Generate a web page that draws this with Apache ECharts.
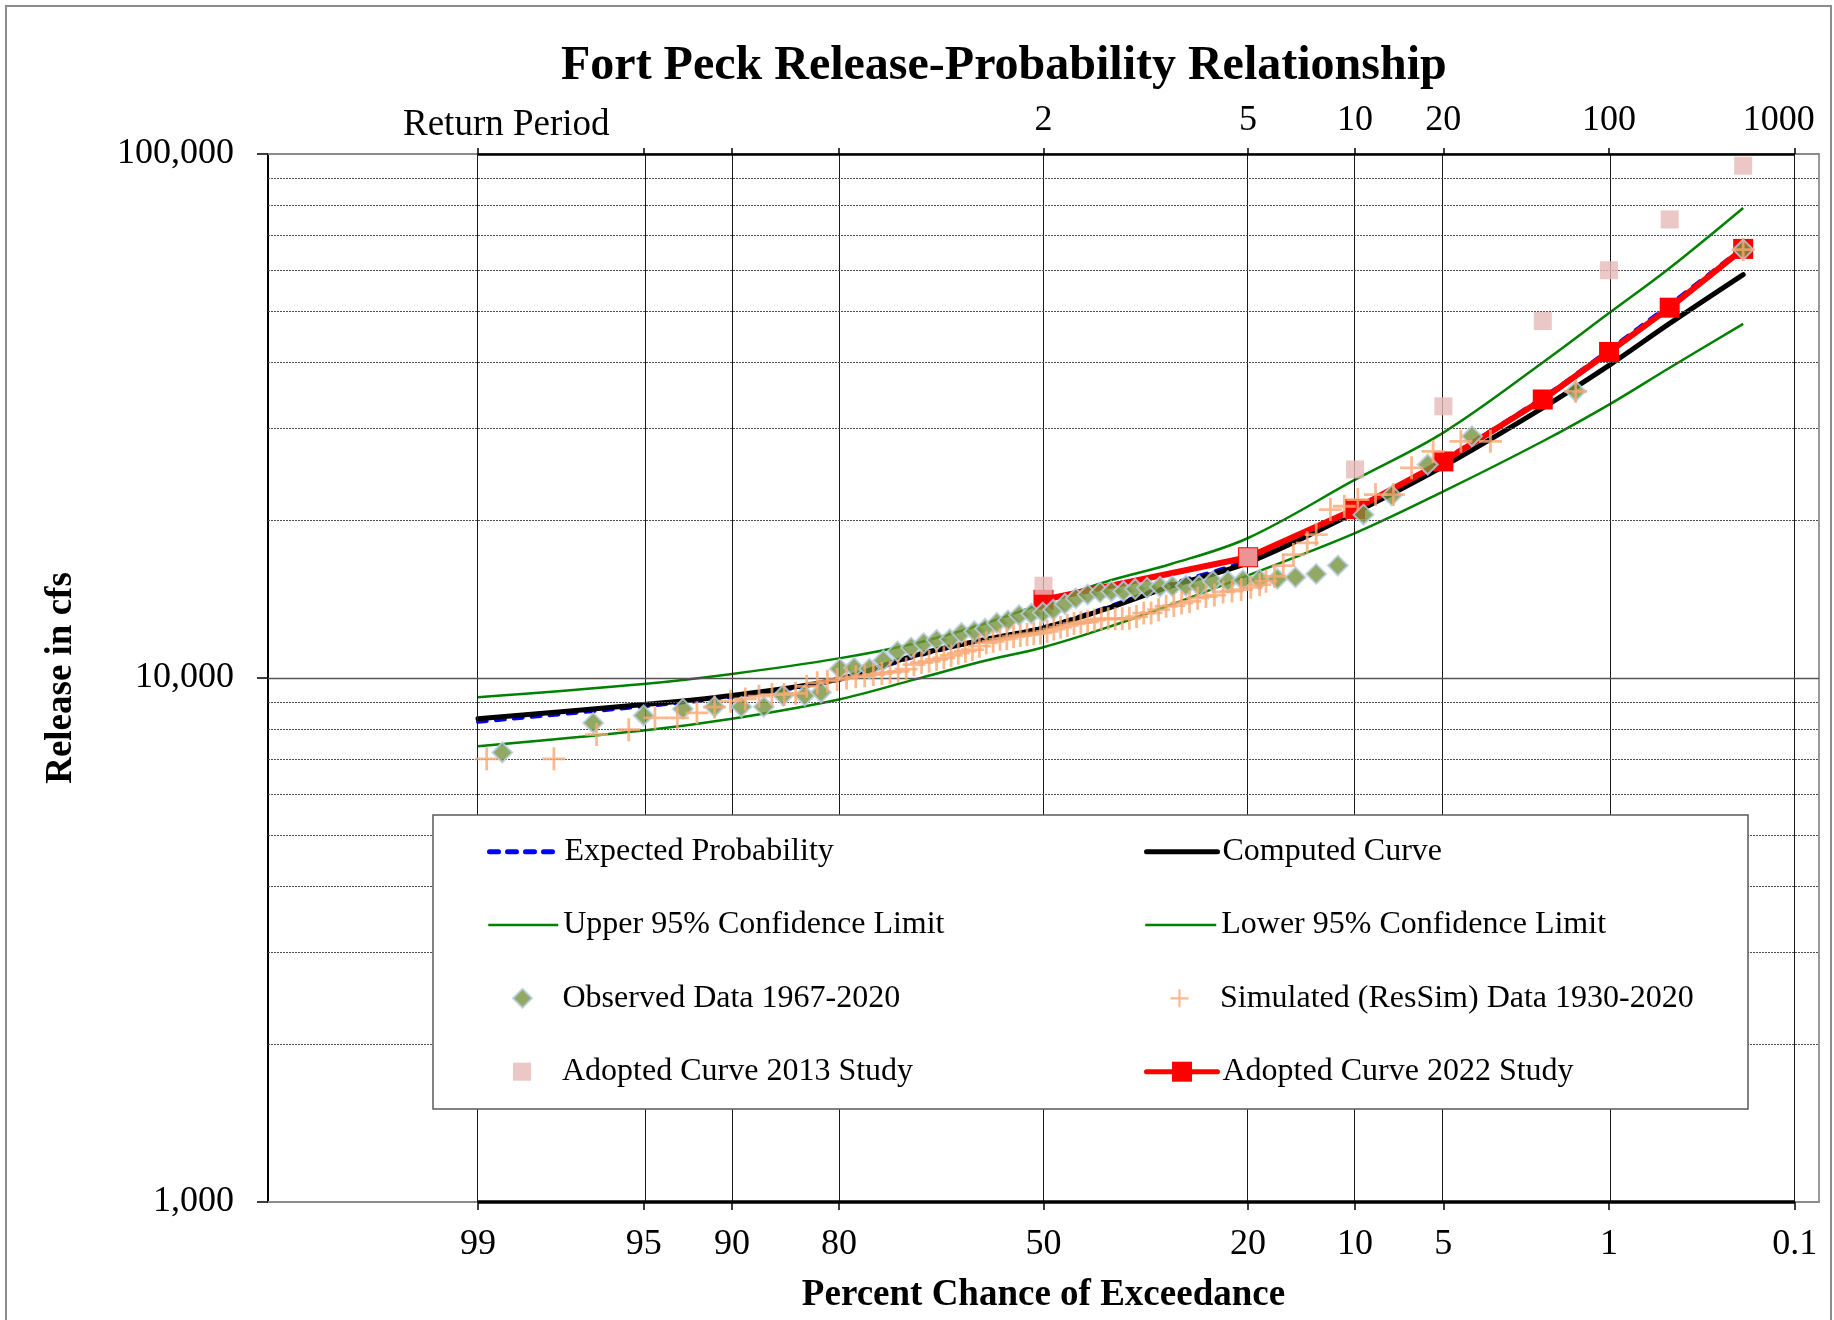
<!DOCTYPE html>
<html>
<head>
<meta charset="utf-8">
<script src="https://cdn.jsdelivr.net/npm/echarts@6/dist/echarts.min.js"></script>
<style>
  html, body { margin: 0; padding: 0; background: #fff; }
  #chart { width: 1834px; height: 1320px; }
</style>
</head>
<body>
<div id="chart"></div>
<script>
// Percent chance of exceedance ticks (bottom axis) and return periods (top axis)
const exceedanceTicks = [99, 95, 90, 80, 50, 20, 10, 5, 1, 0.1];
const exceedanceLabels = ['99', '95', '90', '80', '50', '20', '10', '5', '1', '0.1'];
const returnPeriodPct = [50, 20, 10, 5, 1, 0.1];
const returnPeriodLabels = ['2', '5', '10', '20', '100', '1000'];

// Frequency curves (percent exceedance -> release, cfs)
const curvePct = [99, 95, 90, 80, 70, 60, 50, 40, 30, 20, 10, 5, 2, 1, 0.5, 0.2];
const expectedFlow = [8250, 8830, 9210, 9920, 11000, 11800, 12500, 13600, 15100, 16800, 21100, 26100, 34300, 42300, 51600, 66300];
const computedFlow = [8360, 8900, 9260, 9950, 11060, 11810, 12460, 13530, 14980, 16600, 20700, 25350, 32780, 39500, 47500, 58870];
const upperFlow = [9190, 9740, 10180, 10900, 11650, 12650, 13900, 15250, 16500, 18500, 23900, 29400, 40000, 49700, 60600, 78900];
const lowerFlow = [7410, 7940, 8360, 9100, 9950, 10750, 11450, 12450, 13800, 15700, 18900, 22700, 28300, 33250, 39100, 47400];

// Adopted curves
const adoptedPct = [50, 20, 10, 5, 2, 1, 0.5, 0.2];
const adopted2013 = [15000, 17000, 25000, 33000, 48000, 60000, 75000, 95000];
const adopted2022 = [14100, 17000, 21000, 25900, 34000, 41900, 50900, 65900];

// Observed annual peak releases 1967-2020
const obsPct = [98.7, 96.8, 95.0, 93.1, 91.2, 89.3, 87.5, 85.8, 83.7, 82.0,
  79.9, 78.2, 76.3, 74.5, 72.6, 70.7, 68.9, 67.0, 65.0, 63.2,
  61.2, 59.5, 57.6, 55.8, 54.0, 52.0, 50.1, 48.4, 46.5, 44.7,
  42.8, 40.8, 39.0, 37.1, 35.3, 33.5, 31.6, 29.8, 27.9, 26.1,
  24.3, 22.4, 20.6, 18.7, 16.8, 15.0, 13.1, 11.3, 9.4, 7.6,
  5.7, 3.9, 1.43, 0.2];
const obsFlow = [7210, 8210, 8480, 8730, 8810, 8810, 8810, 9260, 9260, 9390,
  10410, 10460, 10420, 10800, 11240, 11430, 11650, 11820, 11860, 12190,
  12280, 12420, 12740, 12880, 13180, 13260, 13330, 13500, 13840, 14190,
  14430, 14570, 14640, 14640, 14790, 14860, 14930, 14960, 15000, 15000,
  15300, 15300, 15360, 15410, 15460, 15570, 15800, 16390, 20500, 22290,
  25550, 28930, 35250, 65700];

// Simulated (ResSim) annual peak releases 1930-2020
const simPct = [98.9, 97.8, 96.7, 95.6, 94.5, 93.4, 92.3, 91.2, 90.1, 89.0,
  87.9, 86.8, 85.7, 84.6, 83.5, 82.4, 81.3, 80.2, 79.1, 78.0,
  76.9, 75.8, 74.7, 73.6, 72.5, 71.4, 70.3, 69.2, 68.1, 67.0,
  65.9, 64.8, 63.7, 62.6, 61.5, 60.4, 59.3, 58.2, 57.1, 56.0,
  54.9, 53.8, 52.7, 51.6, 50.5, 49.4, 48.3, 47.2, 46.1, 45.0,
  43.9, 42.8, 41.7, 40.6, 39.5, 38.4, 37.3, 36.2, 35.1, 34.0,
  32.9, 31.8, 30.7, 29.6, 28.5, 27.4, 26.3, 25.2, 24.1, 23.0,
  21.9, 20.8, 19.7, 18.7, 18.0, 17.1, 16.2, 15.2, 13.9, 13.1,
  11.9, 10.8, 9.8, 8.6, 7.5, 6.5, 5.45, 4.3, 3.3, 1.43, 0.2];
const simFlow = [7010, 7010, 7800, 7970, 8390, 8390, 8580, 8800, 9030, 9120,
  9230, 9300, 9300, 9350, 9640, 9790, 9860, 9930, 10000, 10050,
  10100, 10150, 10200, 10250, 10300, 10400, 10600, 10700, 10760, 10850,
  10930, 11040, 11150, 11250, 11330, 11500, 11670, 11750, 11850, 11900,
  12000, 12050, 12100, 12150, 12190, 12280, 12400, 12500, 12600, 12700,
  12750, 12800, 12900, 12970, 12970, 12970, 12970, 13000, 13100, 13300,
  13310, 13500, 13700, 13750, 13900, 14000, 14200, 14300, 14400, 14600,
  14650, 14750, 14900, 15070, 15300, 15630, 16390, 17200, 18110, 18780,
  20960, 21270, 21900, 22390, 22390, 25180, 27070, 28290, 28290, 35250, 65700];

// Horizontal grid values on the log release axis
const minorFlows = [2000, 3000, 4000, 5000, 6000, 7000, 8000, 9000,
  20000, 30000, 40000, 50000, 60000, 70000, 80000, 90000];

// Inverse standard normal CDF (Acklam's rational approximation)
function normInv(p) {
  const a = [-3.969683028665376e+01, 2.209460984245205e+02, -2.759285104469687e+02, 1.383577518672690e+02, -3.066479806614716e+01, 2.506628277459239e+00];
  const b = [-5.447609879822406e+01, 1.615858368580409e+02, -1.556989798598866e+02, 6.680131188771972e+01, -1.328068155288572e+01];
  const c = [-7.784894002430293e-03, -3.223964580411365e-01, -2.400758277161838e+00, -2.549732539343734e+00, 4.374664141464968e+00, 2.938163982698783e+00];
  const d = [7.784695709041462e-03, 3.224671290700398e-01, 2.445134137142996e+00, 3.754408661907416e+00];
  const pl = 0.02425, ph = 1 - pl;
  let q, r;
  if (p < pl) {
    q = Math.sqrt(-2 * Math.log(p));
    return (((((c[0] * q + c[1]) * q + c[2]) * q + c[3]) * q + c[4]) * q + c[5]) / ((((d[0] * q + d[1]) * q + d[2]) * q + d[3]) * q + 1);
  }
  if (p <= ph) {
    q = p - 0.5; r = q * q;
    return (((((a[0] * r + a[1]) * r + a[2]) * r + a[3]) * r + a[4]) * r + a[5]) * q / (((((b[0] * r + b[1]) * r + b[2]) * r + b[3]) * r + b[4]) * r + 1);
  }
  q = Math.sqrt(-2 * Math.log(1 - p));
  return -(((((c[0] * q + c[1]) * q + c[2]) * q + c[3]) * q + c[4]) * q + c[5]) / ((((d[0] * q + d[1]) * q + d[2]) * q + d[3]) * q + 1);
}
// Normal-probability position of a percent chance of exceedance
const zOf = pct => normInv(1 - pct / 100);
const pairs = (pcts, vals) => pcts.map((p, i) => [zOf(p), vals[i]]);

const tickZ = exceedanceTicks.map(zOf);
const rpZ = returnPeriodPct.map(zOf);
const labelFor = (value, zs, labels) => {
  for (let i = 0; i < zs.length; i++) if (Math.abs(zs[i] - value) < 1e-6) return labels[i];
  return '';
};

const SERIF = 'Liberation Serif';
const Z_MIN = -3.19, Z_MAX = 3.19;
const CROSS = 'path://M8.8,0H11.2V8.8H20V11.2H11.2V20H8.8V11.2H0V8.8H8.8Z';
const DIAMOND_ICON = 'path://M10,0L20,10L10,20L0,10Z';
const SQUARE_ICON = 'path://M0,0H20V20H0Z';

const gridLines = [];
tickZ.forEach(z => gridLines.push({ xAxis: z, lineStyle: { color: '#1a1a1a', width: 1, type: 'solid' } }));
minorFlows.forEach(v => gridLines.push({ yAxis: v, lineStyle: { color: '#4d4d4d', width: 1, type: [2, 1] } }));
gridLines.push({ yAxis: 10000, lineStyle: { color: '#555', width: 1.4, type: 'solid' } });
gridLines.push([{ coord: [zOf(99), 1000] }, { coord: [zOf(0.1), 1000], lineStyle: { color: '#000', width: 3.5, type: 'solid' } }]);
gridLines.push([{ coord: [zOf(99), 100000] }, { coord: [zOf(0.1), 100000], lineStyle: { color: '#000', width: 2.5, type: 'solid' } }]);

const legendText = { fontFamily: SERIF, fontSize: 32, color: '#000', lineHeight: 32 };
// One legend block per entry so every row sits exactly in its slot
function legendItem(entry, left, centerY, w, h, extra) {
  return Object.assign({
    data: [entry], left: left, top: centerY - 16, itemWidth: w, itemHeight: h,
    padding: 0, z: 30, selectedMode: false, symbolKeepAspect: true, textStyle: legendText
  }, extra || {});
}
const lineOnly = (width) => ({ itemStyle: { opacity: 0 }, lineStyle: { width: width } });
const rowY = [851.7, 925, 998.3, 1071.7];

const chart = echarts.init(document.getElementById('chart'), null, { renderer: 'canvas' });
chart.setOption({
  animation: false,
  backgroundColor: '#fff',
  title: {
    text: 'Fort Peck Release-Probability Relationship',
    left: 561, top: 43, padding: 0,
    textStyle: { fontFamily: SERIF, fontSize: 48, fontWeight: 'bold', color: '#000' }
  },
  graphic: [
    { type: 'rect', z: -10, silent: true, shape: { x: 6, y: 6, width: 1825, height: 1330 },
      style: { fill: 'none', stroke: '#8c8c8c', lineWidth: 2 } },
    { type: 'text', z: 5, silent: true, x: 403, y: 125,
      style: { text: 'Return Period', font: '37px ' + SERIF, fill: '#000', verticalAlign: 'middle' } },
    { type: 'rect', z: 20, silent: true, shape: { x: 433, y: 815, width: 1315, height: 294 },
      style: { fill: '#fff', stroke: '#595959', lineWidth: 1.5 } }
  ],
  legend: [
    legendItem('Expected Probability', 487, rowY[0], 70, 14, lineOnly(5)),
    legendItem('Upper 95% Confidence Limit', 487, rowY[1], 70, 14, lineOnly(2.5)),
    legendItem({ name: 'Observed Data 1967-2020', icon: DIAMOND_ICON }, 512, rowY[2], 70, 19),
    legendItem({ name: 'Adopted Curve 2013 Study', icon: SQUARE_ICON }, 513, rowY[3], 70, 18),
    legendItem('Computed Curve', 1144, rowY[0], 71, 14, lineOnly(5)),
    legendItem('Lower 95% Confidence Limit', 1144, rowY[1], 71, 14, lineOnly(2.5)),
    legendItem('Simulated (ResSim) Data 1930-2020', 1170.5, rowY[2], 71, 18),
    legendItem('Adopted Curve 2022 Study', 1144, rowY[3], 71, 25, { lineStyle: { width: 5 } })
  ],
  grid: {
    left: 268, right: 15, top: 154, bottom: 118, show: true,
    borderColor: '#9a9a9a', borderWidth: 2, backgroundColor: 'transparent'
  },
  xAxis: [
    {
      type: 'value', position: 'bottom', min: Z_MIN, max: Z_MAX,
      axisLine: { show: true, onZero: false, lineStyle: { color: '#8a8a8a', width: 2 } },
      axisTick: { show: true, customValues: tickZ, length: 8, lineStyle: { color: '#000', width: 1.5 } },
      axisLabel: {
        customValues: tickZ, margin: 25, fontFamily: SERIF, fontSize: 36, color: '#000',
        formatter: v => labelFor(v, tickZ, exceedanceLabels)
      },
      splitLine: { show: false },
      name: 'Percent Chance of Exceedance', nameLocation: 'middle', nameGap: 75,
      nameTextStyle: { fontFamily: SERIF, fontSize: 37, fontWeight: 'bold', color: '#000' }
    },
    {
      type: 'value', position: 'top', min: Z_MIN, max: Z_MAX,
      axisLine: { show: true, onZero: false, lineStyle: { color: '#8a8a8a', width: 2 } },
      axisTick: { show: true, customValues: tickZ, length: 6, lineStyle: { color: '#000', width: 1.5 } },
      axisLabel: {
        customValues: rpZ, margin: 15, fontFamily: SERIF, fontSize: 36, color: '#000',
        formatter: v => {
          const s = labelFor(v, rpZ, returnPeriodLabels);
          return s === '1000' ? '{shift|' + s + '}' : s;
        },
        rich: { shift: { fontFamily: SERIF, fontSize: 36, color: '#000', padding: [0, 32, 0, 0] } }
      },
      splitLine: { show: false }
    }
  ],
  yAxis: {
    type: 'log', logBase: 10, min: 1000, max: 100000, position: 'left',
    axisLine: { show: true, onZero: false, lineStyle: { color: '#000', width: 2 } },
    axisTick: { show: true, length: 11, lineStyle: { color: '#000', width: 1.5 } },
    axisLabel: {
      margin: 34, fontFamily: SERIF, fontSize: 36, color: '#000', padding: [5, 0, 0, 0],
      formatter: v => String(Math.round(v)).replace(/\B(?=(\d{3})+(?!\d))/g, ',')
    },
    splitLine: { show: false },
    minorTick: { show: false },
    name: 'Release in cfs', nameLocation: 'middle', nameGap: 188, nameRotate: 90,
    nameTextStyle: { fontFamily: SERIF, fontSize: 37, fontWeight: 'bold', color: '#000' }
  },
  series: [
    {
      name: 'grid', type: 'line', data: [], z: 1, silent: true,
      markLine: { silent: true, symbol: ['none', 'none'], label: { show: false }, animation: false, data: gridLines }
    },
    {
      name: 'Upper 95% Confidence Limit', type: 'line', z: 2, smooth: 0.35,
      symbol: 'none', data: pairs(curvePct, upperFlow),
      lineStyle: { color: '#008000', width: 2.5 }, itemStyle: { color: '#008000' }
    },
    {
      name: 'Lower 95% Confidence Limit', type: 'line', z: 2, smooth: 0.35,
      symbol: 'none', data: pairs(curvePct, lowerFlow),
      lineStyle: { color: '#008000', width: 2.5 }, itemStyle: { color: '#008000' }
    },
    {
      name: 'Expected Probability', type: 'line', z: 3, smooth: 0.35,
      symbol: 'none', data: pairs(curvePct, expectedFlow),
      lineStyle: { color: '#0000ff', width: 4, type: [9, 9], cap: 'round' }, itemStyle: { color: '#0000ff' }
    },
    {
      name: 'Computed Curve', type: 'line', z: 4, smooth: 0.35,
      symbol: 'none', data: pairs(curvePct, computedFlow),
      lineStyle: { color: '#000', width: 5, cap: 'round' }, itemStyle: { color: '#000' }
    },
    {
      name: 'Adopted Curve 2022 Study', type: 'line', z: 5,
      symbol: 'rect', symbolSize: 20, showAllSymbol: true, data: pairs(adoptedPct, adopted2022),
      lineStyle: { color: '#ff0000', width: 6, cap: 'round' }, itemStyle: { color: '#ff0000' }
    },
    {
      name: 'Adopted Curve 2013 Study', type: 'scatter', z: 6,
      symbol: 'rect', symbolSize: 18, data: pairs(adoptedPct, adopted2013),
      itemStyle: { color: '#e6b9b8' }
    },
    {
      name: 'Observed Data 1967-2020', type: 'scatter', z: 7,
      symbol: 'diamond', symbolSize: 20, data: pairs(obsPct, obsFlow),
      itemStyle: { color: '#77933c', borderColor: '#b9cde5', borderWidth: 2 }
    },
    {
      name: 'Simulated (ResSim) Data 1930-2020', type: 'scatter', z: 8,
      symbol: CROSS, symbolSize: 23, data: pairs(simPct, simFlow),
      itemStyle: { color: '#f9a873' }
    }
  ]
});
</script>
</body>
</html>
